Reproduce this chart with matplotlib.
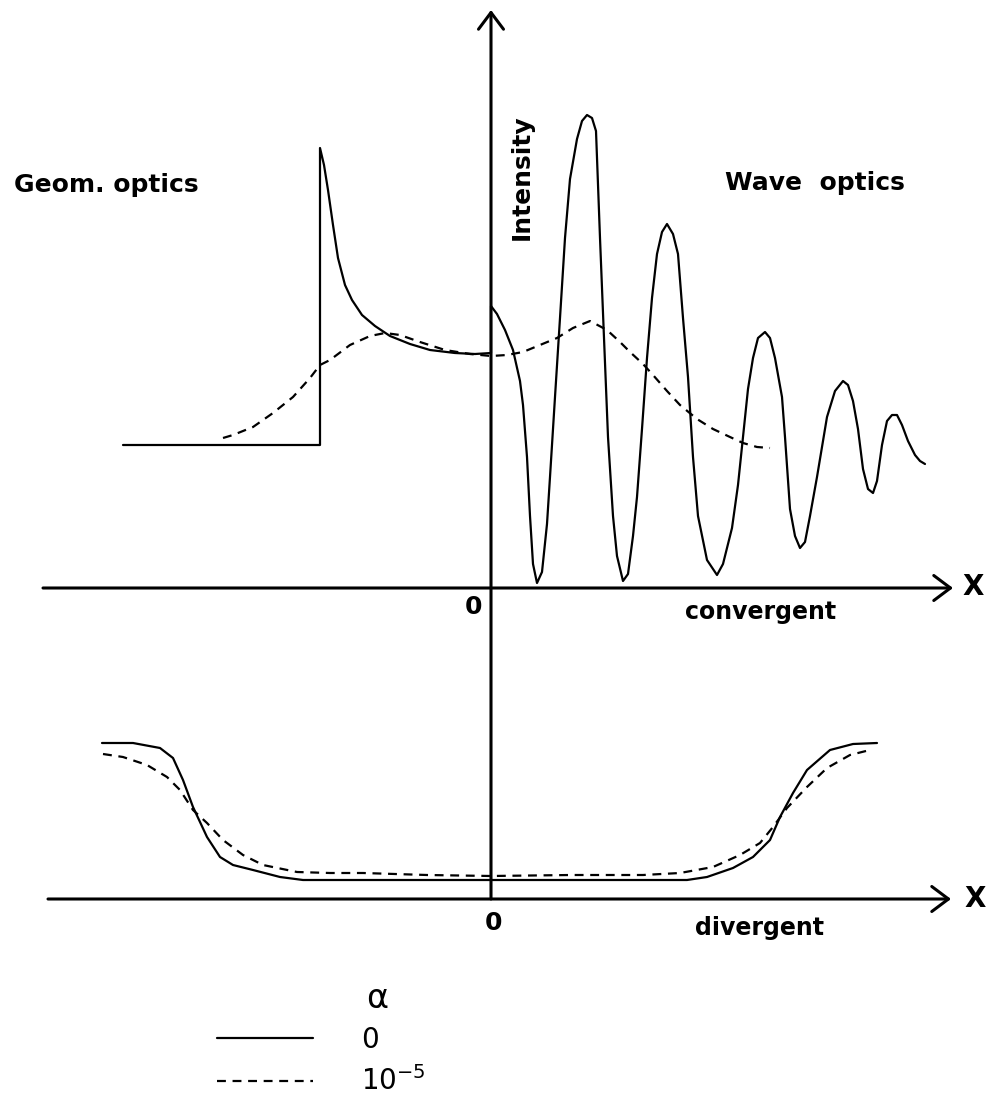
import matplotlib
matplotlib.use('Agg')
import matplotlib.pyplot as plt

# convergent beam: solid = alpha 0, dashed = alpha 1e-5
conv_solid_x = [-3.68, -1.71, -1.71, -1.67, -1.63, -1.58, -1.53, -1.46, -1.39, -1.29,
                -1.16, -1.01, -0.81, -0.61, -0.36, -0.16, 0.00, 0.00, 0.06, 0.14,
                0.22, 0.29, 0.32, 0.36, 0.39, 0.42, 0.46, 0.51, 0.56, 0.59,
                0.64, 0.69, 0.74, 0.79, 0.86, 0.91, 0.96, 1.01, 1.05, 1.09,
                1.13, 1.17, 1.22, 1.26, 1.32, 1.37, 1.42, 1.46, 1.51, 1.56,
                1.61, 1.66, 1.71, 1.76, 1.82, 1.87, 1.92, 1.97, 2.02, 2.07,
                2.16, 2.26, 2.32, 2.41, 2.47, 2.52, 2.57, 2.62, 2.67, 2.74,
                2.79, 2.84, 2.91, 2.94, 2.99, 3.04, 3.09, 3.14, 3.19, 3.26,
                3.36, 3.44, 3.52, 3.57, 3.62, 3.67, 3.72, 3.77, 3.82, 3.86,
                3.91, 3.96, 4.01, 4.06, 4.11, 4.17, 4.24, 4.29, 4.34]
conv_solid_y = [1.43, 1.43, 4.40, 4.23, 3.98, 3.63, 3.30, 3.03, 2.88, 2.73,
                2.62, 2.52, 2.44, 2.38, 2.35, 2.34, 2.35, 2.82, 2.74, 2.58,
                2.38, 2.07, 1.83, 1.31, 0.72, 0.24, 0.05, 0.16, 0.64, 1.11,
                1.91, 2.70, 3.50, 4.09, 4.49, 4.67, 4.73, 4.70, 4.57, 3.50,
                2.50, 1.51, 0.72, 0.32, 0.07, 0.14, 0.52, 0.91, 1.59, 2.30,
                2.90, 3.34, 3.56, 3.64, 3.54, 3.34, 2.70, 2.11, 1.31, 0.72,
                0.28, 0.13, 0.24, 0.60, 1.03, 1.51, 1.99, 2.30, 2.50, 2.56,
                2.50, 2.30, 1.91, 1.51, 0.79, 0.52, 0.40, 0.46, 0.72, 1.11,
                1.71, 1.97, 2.07, 2.03, 1.87, 1.59, 1.19, 0.99, 0.95, 1.07,
                1.43, 1.67, 1.73, 1.73, 1.63, 1.47, 1.33, 1.27, 1.24]

conv_dash_x = [-2.68, -2.58, -2.38, -2.18, -1.98, -1.81, -1.71, -1.61, -1.41, -1.21,
               -1.06, -0.91, -0.71, -0.46, -0.21, 0.00, 0.16, 0.32, 0.49, 0.66,
               0.82, 0.99, 1.16, 1.29, 1.39, 1.52, 1.62, 1.76, 1.89, 2.06,
               2.22, 2.39, 2.52, 2.66, 2.79]
conv_dash_y = [1.50, 1.53, 1.61, 1.75, 1.91, 2.10, 2.23, 2.28, 2.43, 2.52,
               2.55, 2.53, 2.46, 2.38, 2.34, 2.32, 2.33, 2.36, 2.43, 2.50,
               2.60, 2.67, 2.58, 2.46, 2.36, 2.24, 2.13, 1.97, 1.83, 1.69,
               1.59, 1.51, 1.45, 1.41, 1.40]

# divergent beam
div_solid_x = [-3.89, -3.58, -3.31, -3.18, -3.08, -2.98, -2.84, -2.71, -2.58, -2.38,
               -2.11, -1.88, 0.00, 1.96, 2.16, 2.42, 2.62, 2.79, 2.89, 3.02,
               3.16, 3.39, 3.62, 3.86]
div_solid_y = [1.56, 1.56, 1.51, 1.41, 1.19, 0.92, 0.62, 0.42, 0.34, 0.29,
               0.22, 0.19, 0.19, 0.19, 0.22, 0.31, 0.42, 0.59, 0.82, 1.06,
               1.29, 1.49, 1.55, 1.56]

div_dash_x = [-3.88, -3.68, -3.44, -3.24, -3.11, -2.98, -2.84, -2.68, -2.48, -2.28,
              -1.94, -1.61, -1.28, -0.64, 0.00, 0.80, 1.52, 1.89, 2.22, 2.49,
              2.69, 2.82, 2.96, 3.16, 3.36, 3.59, 3.79]
div_dash_y = [1.45, 1.42, 1.34, 1.22, 1.09, 0.89, 0.76, 0.59, 0.44, 0.34,
              0.27, 0.26, 0.26, 0.24, 0.23, 0.24, 0.24, 0.26, 0.32, 0.44,
              0.56, 0.72, 0.91, 1.12, 1.31, 1.44, 1.49]

alpha_labels = ['0', r'$\mathregular{10^{-5}}$']

W, H = 989, 1100
fig = plt.figure(figsize=(W / 100, H / 100), dpi=100)
plt.rcParams['font.family'] = 'DejaVu Sans'
plt.rcParams['mathtext.fontset'] = 'dejavusans'

xlim = (-4.91, 4.98)
# top panel: baseline at 588 px
ax_top = fig.add_axes([0, 1 - 588 / H, 1, 588 / H])
ax_top.set_xlim(*xlim)
ax_top.set_ylim(0, 5.88)
# bottom panel: baseline at 899 px
ax_bot = fig.add_axes([0, 0, 1, 480 / H])
ax_bot.set_xlim(*xlim)
ax_bot.set_ylim(-2.01, 2.79)
for ax in (ax_top, ax_bot):
    ax.set_axis_off()

lw = 1.6
dash = (0, (4, 3))
line_kw = dict(color='black', lw=lw, solid_joinstyle='round', solid_capstyle='round')
ax_top.plot(conv_solid_x, conv_solid_y, **line_kw)
ax_top.plot(conv_dash_x, conv_dash_y, color='black', lw=lw, linestyle=dash)
l1, = ax_bot.plot(div_solid_x, div_solid_y, **line_kw)
l2, = ax_bot.plot(div_dash_x, div_dash_y, color='black', lw=lw, linestyle=dash)

# axes drawn by hand
arrow = dict(arrowstyle='->,head_length=0.6,head_width=0.45', lw=2.2,
             color='black', mutation_scale=20, shrinkA=0, shrinkB=0)
ax_top.annotate('', xy=(4.62, 0), xytext=(-4.48, 0), arrowprops=arrow,
                annotation_clip=False)
ax_bot.annotate('', xy=(4.60, 0), xytext=(-4.43, 0), arrowprops=arrow,
                annotation_clip=False)
ax_top.annotate('', xy=(0.0, 5.78), xytext=(0.0, -3.11), arrowprops=arrow,
                annotation_clip=False)

txt = dict(color='black', ha='center', va='center', fontweight='bold')
ax_top.text(-3.85, 4.03, 'Geom. optics', fontsize=18, **txt)
ax_top.text(3.24, 4.05, 'Wave  optics', fontsize=18, **txt)
ax_top.text(0.31, 4.11, 'Intensity', fontsize=18, rotation=90, **txt)
ax_top.text(2.70, -0.24, 'convergent', fontsize=17, **txt)
ax_top.text(-0.18, -0.19, '0', fontsize=18, **txt)
ax_top.text(4.82, 0.01, 'X', fontsize=20, **txt)
ax_bot.text(2.69, -0.29, 'divergent', fontsize=17, **txt)
ax_bot.text(0.02, -0.24, '0', fontsize=18, **txt)
ax_bot.text(4.84, 0.0, 'X', fontsize=20, **txt)

# legend
fig.text(377 / W, 1 - 998 / H, 'α', fontsize=24, ha='center', va='center')
fig.legend([l1, l2], alpha_labels, loc='upper left',
           bbox_to_anchor=(217 / W, 1 - 1026 / H), frameon=False,
           fontsize=20, handlelength=3.45, handletextpad=1.75,
           labelspacing=0.45, borderpad=0, borderaxespad=0)

fig.savefig('out.png', dpi=100)
